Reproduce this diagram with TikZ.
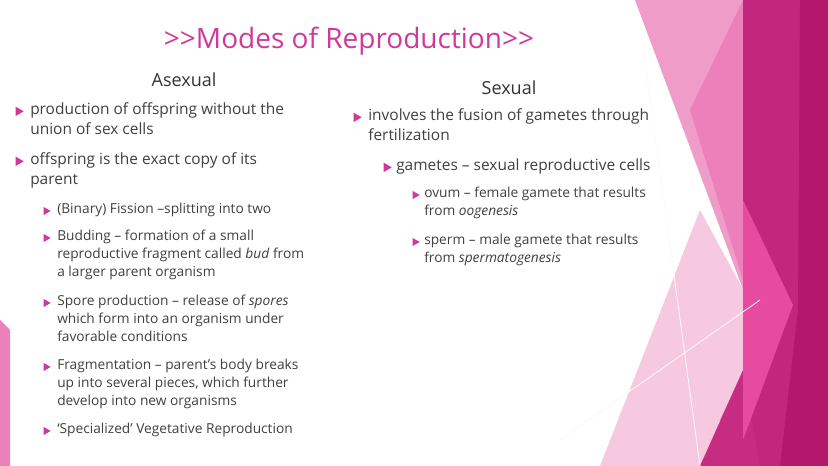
\documentclass[tikz,border=0pt]{standalone}
\usepackage{fontspec}
\setmainfont{Open Sans}
\usepackage{xcolor}
\usetikzlibrary{shapes.geometric, positioning}
\definecolor{magtitle}{HTML}{D0389A}
\definecolor{bodytext}{HTML}{404040}
\definecolor{pinkpale}{HTML}{F7C9E1}
\definecolor{pinklight}{HTML}{F09CC9}
\definecolor{pinkmid}{HTML}{EC80BA}
\definecolor{pinkhot}{HTML}{E64BA0}
\definecolor{magdark}{HTML}{C2277E}
\definecolor{magdeep}{HTML}{B3186C}
\begin{document}
\begin{tikzpicture}[
    x=0.75pt, y=-0.75pt,
    heading/.style={font=\fontsize{13.5}{16}\selectfont, text=black!80, inner sep=0},
    item/.style={anchor=north west, align=left, inner sep=0, text=bodytext, font=\fontsize{11.6}{15}\selectfont},
    subitem/.style={anchor=north west, align=left, inner sep=0, text=bodytext, font=\fontsize{10.3}{13.5}\selectfont},
    marker/.style={isosceles triangle, fill=magtitle, inner sep=0, minimum width=7pt, minimum height=6pt, isosceles triangle apex angle=60}
]
\useasboundingbox[fill=white] (0,0) rectangle (828,466);

% decoration on the right
\fill[pinkpale] (600,466) -- (700,210) -- (765,330) -- (720,466) -- cycle;
\fill[pinklight] (635,0) -- (743,0) -- (743,466) -- (705,466) -- (760,335) -- cycle;
\fill[pinkmid] (690,110) -- (743,0) -- (743,466) -- (720,420) -- (760,335) -- cycle;
\fill[magdark] (743,0) rectangle (828,466);
\fill[magdark!85!pinkhot] (700,466) -- (743,370) -- (760,466) -- cycle;
\fill[pinkhot] (743,200) -- (793,305) -- (743,440) -- cycle;
\fill[magdeep] (800,0) -- (828,0) -- (828,466) -- (780,466) -- (798,310) -- cycle;
\draw[white!90!pink, line width=0.6pt] (640,25) -- (700,466);
\draw[white!85!pink, line width=0.6pt] (560,440) -- (760,300);
\fill[pinkmid] (0,320) -- (10,330) -- (10,466) -- (0,466) -- cycle;

% title and headings
\node (title) [text=magtitle, font=\fontsize{21}{24}\selectfont] at (349,41) {>{}>Modes of Reproduction>{}>};
\node (asexual) [heading] at (184,80) {Asexual};
\node (sexual) [heading] at (509,88) {Sexual};

% asexual column
\node (a1) [item] at (30,102) {production of offspring without the\\union of sex cells};
\node (a2) [item] at (30,152) {offspring is the exact copy of its\\parent};
\node (a3) [subitem] at (57,203) {(Binary) Fission –splitting into two};
\node (a4) [subitem] at (57,230) {Budding – formation of a small\\reproductive fragment called \emph{bud} from\\a larger parent organism};
\node (a5) [subitem] at (57,295) {Spore production – release of \emph{spores}\\which form into an organism under\\favorable conditions};
\node (a6) [subitem] at (57,359) {Fragmentation – parent’s body breaks\\up into several pieces, which further\\develop into new organisms};
\node (a7) [subitem] at (57,423) {‘Specialized’ Vegetative Reproduction};

% sexual column
\node (s1) [item] at (368,108) {involves the fusion of gametes through\\fertilization};
\node (s2) [item] at (396,158) {gametes – sexual reproductive cells};
\node (s3) [subitem] at (424,187) {ovum – female gamete that results\\from \emph{oogenesis}};
\node (s4) [subitem] at (424,234) {sperm – male gamete that results\\from \emph{spermatogenesis}};

% bullets
\foreach \n/\bx in {a1/13, a2/13, s1/351, s2/381}
  \node [marker, xshift=4pt, yshift=-7pt] at (\bx,0 |- \n.north) {};
\foreach \n/\bx in {a3/42, a4/42, a5/42, a6/42, a7/42, s3/411, s4/411}
  \node [marker, minimum width=6pt, minimum height=5pt, xshift=3pt, yshift=-6pt] at (\bx,0 |- \n.north) {};
\end{tikzpicture}
\end{document}
